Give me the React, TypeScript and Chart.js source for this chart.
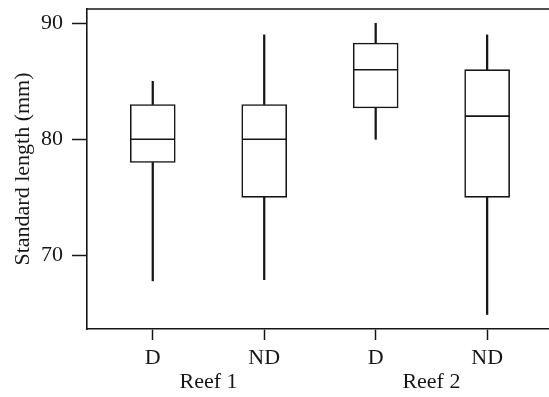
import React, { useEffect, useRef } from 'react';
import { Chart, registerables } from 'chart.js';

Chart.register(...registerables);

// ---- data ----
const CATEGORIES = ['D', 'ND', 'D', 'ND'];
const REEFS = ['Reef 1', 'Reef 2'];
const REEF_POSITIONS = [0.5, 2.5];
const WHISKER_MIN = [67.8, 67.9, 80, 64.9];
const Q1 = [78, 75, 82.7, 75];
const MEDIAN = [80, 80, 86, 82];
const Q3 = [83, 83, 88.3, 86];
const WHISKER_MAX = [85, 89, 90, 89];
const Y_TICKS = [70, 80, 90];
const Y_TITLE = 'Standard length (mm)';

const INK = '#161616';
const FONT = 'Liberation Serif';
const X_MIN = -0.59;
const X_MAX = 3.555;

const topBorder = {
  id: 'topBorder',
  afterDraw(chart: any) {
    const { ctx, chartArea } = chart;
    ctx.save();
    ctx.strokeStyle = INK;
    ctx.lineWidth = 1.5;
    ctx.beginPath();
    ctx.moveTo(chartArea.left - 0.75, chartArea.top);
    ctx.lineTo(chartArea.right + 2, chartArea.top);
    ctx.stroke();
    ctx.restore();
  },
};

const noPad = (s: any) => {
  s.paddingTop = 0;
  s.paddingBottom = 0;
  s.paddingLeft = 0;
  s.paddingRight = 0;
};

export default function App() {
  const ref = useRef<HTMLCanvasElement>(null);

  useEffect(() => {
    if (!ref.current) return;
    const idx = CATEGORIES.map((_, i) => i);
    const chart = new Chart(ref.current, {
      type: 'bar',
      data: {
        datasets: [
          {
            type: 'bar',
            data: idx.map((i) => ({ x: i, y: [WHISKER_MIN[i], Q1[i]] })),
            backgroundColor: INK,
            borderWidth: 0,
            barThickness: 1.6,
            grouped: false,
            order: 3,
          } as any,
          {
            type: 'bar',
            data: idx.map((i) => ({ x: i, y: [Q3[i], WHISKER_MAX[i]] })),
            backgroundColor: INK,
            borderWidth: 0,
            barThickness: 1.6,
            grouped: false,
            order: 3,
          } as any,
          {
            type: 'bar',
            data: idx.map((i) => ({ x: i, y: [Q1[i], Q3[i]] })),
            backgroundColor: '#ffffff',
            borderColor: INK,
            borderWidth: 1.6,
            borderSkipped: false,
            barThickness: 45,
            grouped: false,
            order: 2,
          } as any,
          {
            type: 'line',
            data: idx.map((i) => ({ x: i, y: MEDIAN[i] })),
            showLine: false,
            pointStyle: 'line',
            pointRadius: 22,
            pointHoverRadius: 22,
            pointBorderWidth: 1.6,
            pointBorderColor: INK,
            order: 0,
          } as any,
        ],
      },
      options: {
        animation: false,
        responsive: false,
        devicePixelRatio: 1,
        layout: { autoPadding: false, padding: { top: 9, left: 0, right: 0, bottom: 0 } },
        plugins: { legend: { display: false }, tooltip: { enabled: false } },
        scales: {
          x: {
            type: 'linear',
            position: 'bottom',
            min: X_MIN,
            max: X_MAX,
            offset: false,
            afterBuildTicks: (s: any) => {
              s.ticks = CATEGORIES.map((_, i) => ({ value: i }));
            },
            afterFit: (s: any) => {
              s.height = 40;
              noPad(s);
            },
            ticks: {
              callback: (v: any) => CATEGORIES[Math.round(Number(v))] ?? '',
              font: { family: FONT, size: 22 },
              color: INK,
              padding: 5,
              maxRotation: 0,
              autoSkip: false,
            },
            grid: {
              display: true,
              offset: false,
              drawOnChartArea: false,
              drawTicks: true,
              tickLength: 11,
              tickColor: INK,
              tickWidth: 1.5,
            },
            border: { display: true, color: INK, width: 1.6 },
          },
          x2: {
            type: 'linear',
            position: 'bottom',
            min: X_MIN,
            max: X_MAX,
            offset: false,
            afterBuildTicks: (s: any) => {
              s.ticks = REEF_POSITIONS.map((v) => ({ value: v }));
            },
            afterFit: (s: any) => {
              s.height = 28;
              noPad(s);
            },
            ticks: {
              callback: (v: any) => REEFS[REEF_POSITIONS.indexOf(Number(v))] ?? '',
              font: { family: FONT, size: 22 },
              color: INK,
              padding: 0,
              maxRotation: 0,
              autoSkip: false,
            },
            grid: { display: false, drawTicks: false },
            border: { display: false },
          },
          y: {
            type: 'linear',
            min: 63.65,
            max: 91.23,
            afterBuildTicks: (s: any) => {
              s.ticks = Y_TICKS.map((v) => ({ value: v }));
            },
            afterFit: (s: any) => {
              s.width = 87;
              noPad(s);
            },
            ticks: {
              font: { family: FONT, size: 22 },
              color: INK,
              padding: 9,
            },
            grid: {
              display: true,
              drawOnChartArea: false,
              drawTicks: true,
              tickLength: 15,
              tickColor: INK,
              tickWidth: 1.5,
            },
            border: { display: true, color: INK, width: 1.6 },
            title: {
              display: true,
              text: Y_TITLE,
              font: { family: FONT, size: 22 },
              color: INK,
              padding: { top: 10, bottom: 0 },
            },
          },
        },
      } as any,
      plugins: [topBorder],
    });
    return () => chart.destroy();
  }, []);

  return (
    <div style={{ position: 'absolute', left: 0, top: 0, width: 549, height: 397, background: '#fff' }}>
      <canvas ref={ref} width={549} height={397} style={{ display: 'block' }} />
    </div>
  );
}
